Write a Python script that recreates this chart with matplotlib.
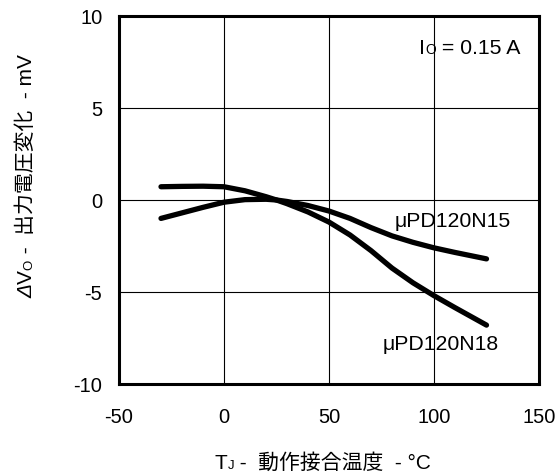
import matplotlib
matplotlib.use("Agg")
import matplotlib.pyplot as plt
from matplotlib.transforms import IdentityTransform

plt.rcParams['font.family'] = ['Liberation Sans', 'Noto Sans CJK JP', 'DejaVu Sans']
plt.rcParams['axes.unicode_minus'] = False

# junction temperature (degC) and output voltage change (mV)
temp_n15 = [-30, -20, -10, 0, 10, 20, 25, 30, 40, 50, 60, 70, 80, 90, 100, 110, 125]
dvo_n15 = [-1.0, -0.7, -0.4, -0.12, 0.02, 0.04, 0.0, -0.08, -0.3, -0.6, -1.0, -1.5, -1.95, -2.3, -2.6, -2.85, -3.2]

temp_n18 = [-30, -20, -10, 0, 10, 20, 25, 30, 40, 50, 60, 70, 80, 90, 100, 110, 125]
dvo_n18 = [0.72, 0.74, 0.75, 0.72, 0.5, 0.18, 0.0, -0.2, -0.65, -1.2, -1.9, -2.75, -3.7, -4.5, -5.2, -5.85, -6.8]

xticks = [-50, 0, 50, 100, 150]
yticks = [-10, -5, 0, 5, 10]

W, H = 558, 475
fig = plt.figure(figsize=(W / 100, H / 100), dpi=100)
ax = fig.add_axes([119 / W, 1 - 384 / H, 420 / W, 368 / H])

ax.plot(temp_n15, dvo_n15, color='black', lw=3.8, solid_capstyle='round', solid_joinstyle='round')
ax.plot(temp_n18, dvo_n18, color='black', lw=3.8, solid_capstyle='round', solid_joinstyle='round')

ax.set_xlim(-50, 150)
ax.set_ylim(-10, 10)
ax.set_xticks(xticks)
ax.set_yticks(yticks)
ax.grid(True, color='black', lw=0.8)
ax.tick_params(length=0, labelsize=14.5)
ax.tick_params(axis='x', pad=17)
ax.tick_params(axis='y', pad=12)
for s in ax.spines.values():
    s.set_linewidth(2.2)

ax.text(81.4, -1.45, 'μPD120N15', fontsize=15.3, ha='left', va='baseline')
ax.text(75.7, -8.15, 'μPD120N18', fontsize=15.3, ha='left', va='baseline')


def rich(pieces, x, y, rotation=0, center=False):
    # pieces: (text, size, style); x, y in pixels from bottom-left
    r = fig.canvas.get_renderer()
    widths = []
    for s, size, style in pieces:
        t = fig.text(0, 0, s, fontsize=size, style=style)
        widths.append(t.get_window_extent(r).width)
        t.remove()
    total = sum(widths)
    pos = -total / 2 if center else 0
    for (s, size, style), w in zip(pieces, widths):
        if rotation:
            px, py = x, y + pos
        else:
            px, py = x + pos, y
        fig.text(px, py, s, fontsize=size, style=style, transform=IdentityTransform(),
                 rotation=rotation, rotation_mode='anchor', ha='left', va='baseline')
        pos += w


rich([('I', 15.3, 'normal'), ('O', 10, 'normal'), (' = 0.15 A', 15.3, 'normal')], 419, H - 54)
rich([('T', 15, 'normal'), ('J', 9.5, 'normal'), (' -  動作接合温度  - °C', 15, 'normal')],
     323, 6, center=True)
rich([('Δ', 15, 'italic'), ('V', 15, 'normal'), ('O', 9.5, 'normal'), (' -  出力電圧変化  - mV', 15, 'normal')],
     32, H - 176, rotation=90, center=True)

fig.savefig('out.png', dpi=100)
